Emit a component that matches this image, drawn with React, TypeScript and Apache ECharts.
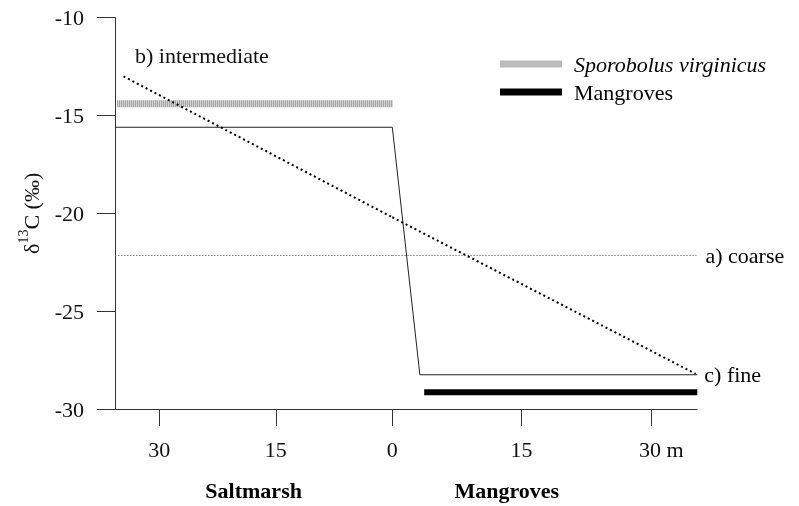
import React, { useEffect, useRef } from 'react';
import * as echarts from 'echarts';

const FONT = 'Liberation Serif';

// axis ranges (metres from the saltmarsh / mangrove boundary) and ticks
const yMin = -30;
const yMax = -10;
const yStep = 5;
const saltmarshExtent = 35.7;
const mangroveExtent = 35.4;
const saltmarshTicks = [0, 15, 30];
const mangroveTicks = [15, 30];

// series values: [distance (m), δ13C (‰)]
const sporobolus = [[35.4, -14.4], [0, -14.4]];
const mangroves = [[3.7, -29.15], [35.4, -29.15]];
const fineSaltmarsh = [[35.7, -15.6], [0, -15.6]];
const fineMangrove = [[0, -15.6], [3.2, -28.25], [35.4, -28.25]];
const coarseSaltmarsh = [[35.7, -22.15], [0, -22.15]];
const coarseMangrove = [[0, -22.15], [35.3, -22.15]];
const intermediateSaltmarsh = [[34.6, -13.0], [0, -20.2]];
const intermediateMangrove = [[0, -20.2], [35.2, -28.2]];

const stripeIcon =
  'path://' +
  Array.from({ length: 31 }, (_, i) => `M${i * 2} 0h1v7h-1z`).join('');

export default function App() {
  const ref = useRef<HTMLDivElement>(null);

  useEffect(() => {
    if (!ref.current) return;
    const chart = echarts.init(ref.current, undefined, { renderer: 'svg' });

    const axisLineStyle = { color: '#333', width: 1 };
    const labelStyle = { fontFamily: FONT, fontSize: 22, color: '#111' };

    const option: any = {
      animation: false,
      grid: [
        { left: 115, top: 17.7, width: 277.3, height: 394 },
        { left: 392.3, top: 17.7, width: 305, height: 394 },
      ],
      xAxis: [
        {
          gridIndex: 0,
          type: 'value',
          inverse: true,
          min: 0,
          max: saltmarshExtent,
          axisLine: { show: true, onZero: false, lineStyle: axisLineStyle },
          axisTick: { show: true, length: 17, customValues: saltmarshTicks, lineStyle: axisLineStyle },
          axisLabel: { ...labelStyle, customValues: saltmarshTicks, margin: 29 },
          splitLine: { show: false },
          name: 'Saltmarsh',
          nameLocation: 'middle',
          nameGap: 70,
          nameTextStyle: { fontFamily: FONT, fontSize: 22, fontWeight: 'bold', color: '#000' },
        },
        {
          gridIndex: 1,
          type: 'value',
          min: 0,
          max: mangroveExtent,
          axisLine: { show: true, onZero: false, lineStyle: axisLineStyle },
          axisTick: { show: true, length: 17, customValues: mangroveTicks, lineStyle: axisLineStyle },
          axisLabel: {
            ...labelStyle,
            customValues: mangroveTicks,
            margin: 29,
            formatter: (v: number) => (v === 30 ? '{p| }30 m' : String(v)),
            rich: { p: { width: 21 } },
          },
          splitLine: { show: false },
          name: 'Mangroves',
          nameLocation: 'middle',
          nameGap: 70,
          nameTextStyle: {
            fontFamily: FONT,
            fontSize: 22,
            fontWeight: 'bold',
            color: '#000',
            padding: [0, 76, 0, 0],
          },
        },
      ],
      yAxis: [
        {
          gridIndex: 0,
          type: 'value',
          min: yMin,
          max: yMax,
          interval: yStep,
          axisLine: { show: true, onZero: false, lineStyle: axisLineStyle },
          axisTick: { show: true, length: 18, lineStyle: axisLineStyle },
          axisLabel: { ...labelStyle, margin: 31 },
          splitLine: { show: false },
          name: '{a|δ}{s|13}{a|C (‰)}',
          nameLocation: 'middle',
          nameRotate: 90,
          nameGap: 73,
          nameTextStyle: {
            rich: {
              a: { fontFamily: FONT, fontSize: 22, color: '#111', lineHeight: 26, verticalAlign: 'bottom' },
              s: { fontFamily: FONT, fontSize: 14, color: '#111', lineHeight: 26, verticalAlign: 'top' },
            },
          },
        },
        {
          gridIndex: 1,
          type: 'value',
          min: yMin,
          max: yMax,
          interval: yStep,
          show: false,
        },
      ],
      legend: {
        orient: 'vertical',
        left: 500,
        top: 53,
        padding: 0,
        itemWidth: 62,
        itemHeight: 7,
        itemGap: 6,
        selectedMode: false,
        formatter: (name: string) =>
          name === 'Sporobolus virginicus' ? `{g| }{i|${name}}` : `{g| }{n|${name}}`,
        textStyle: {
          fontFamily: FONT,
          fontSize: 22,
          color: '#000',
          rich: {
            g: { width: 7, fontFamily: FONT, fontSize: 22 },
            i: { fontFamily: FONT, fontSize: 22, fontStyle: 'italic', color: '#000' },
            n: { fontFamily: FONT, fontSize: 22, color: '#000' },
          },
        },
        data: [
          { name: 'Sporobolus virginicus', icon: stripeIcon, itemStyle: { color: '#777', borderWidth: 0 } },
          { name: 'Mangroves', icon: 'rect', itemStyle: { color: '#000', borderWidth: 0 } },
        ],
      },
      graphic: [
        {
          type: 'text',
          left: 135,
          top: 44,
          style: { text: 'b) intermediate', fontFamily: FONT, fontSize: 22, fill: '#111' },
        },
      ],
      series: [
        {
          name: 'Sporobolus virginicus',
          type: 'line',
          xAxisIndex: 0,
          yAxisIndex: 0,
          data: sporobolus,
          symbol: 'none',
          color: '#777',
          lineStyle: { color: '#777', width: 7, type: [1, 1] },
        },
        {
          name: 'coarse (saltmarsh)',
          type: 'line',
          xAxisIndex: 0,
          yAxisIndex: 0,
          data: coarseSaltmarsh,
          symbol: 'none',
          lineStyle: { color: '#777', width: 1, type: [1.5, 1.5] },
        },
        {
          name: 'coarse (mangroves)',
          type: 'line',
          xAxisIndex: 1,
          yAxisIndex: 1,
          data: coarseMangrove,
          symbol: 'none',
          lineStyle: { color: '#777', width: 1, type: [1.5, 1.5] },
          endLabel: { show: true, formatter: 'a) coarse', distance: 9, ...labelStyle, color: '#000' },
        },
        {
          name: 'fine (saltmarsh)',
          type: 'line',
          xAxisIndex: 0,
          yAxisIndex: 0,
          data: fineSaltmarsh,
          symbol: 'none',
          lineStyle: { color: '#222', width: 1 },
        },
        {
          name: 'fine (mangroves)',
          type: 'line',
          xAxisIndex: 1,
          yAxisIndex: 1,
          data: fineMangrove,
          symbol: 'none',
          lineStyle: { color: '#222', width: 1 },
          endLabel: { show: true, formatter: 'c) fine', distance: 7, ...labelStyle, color: '#000' },
        },
        {
          name: 'Mangroves',
          type: 'line',
          xAxisIndex: 1,
          yAxisIndex: 1,
          data: mangroves,
          symbol: 'none',
          color: '#000',
          lineStyle: { color: '#000', width: 6 },
        },
        {
          name: 'intermediate (saltmarsh)',
          type: 'line',
          xAxisIndex: 0,
          yAxisIndex: 0,
          data: intermediateSaltmarsh,
          symbol: 'none',
          lineStyle: { color: '#000', width: 2, type: [2, 3] },
        },
        {
          name: 'intermediate (mangroves)',
          type: 'line',
          xAxisIndex: 1,
          yAxisIndex: 1,
          data: intermediateMangrove,
          symbol: 'none',
          lineStyle: { color: '#000', width: 2, type: [2, 3] },
        },
      ],
    };

    chart.setOption(option);
    return () => chart.dispose();
  }, []);

  return <div ref={ref} style={{ position: 'fixed', left: 0, top: 0, width: 799, height: 506 }} />;
}
